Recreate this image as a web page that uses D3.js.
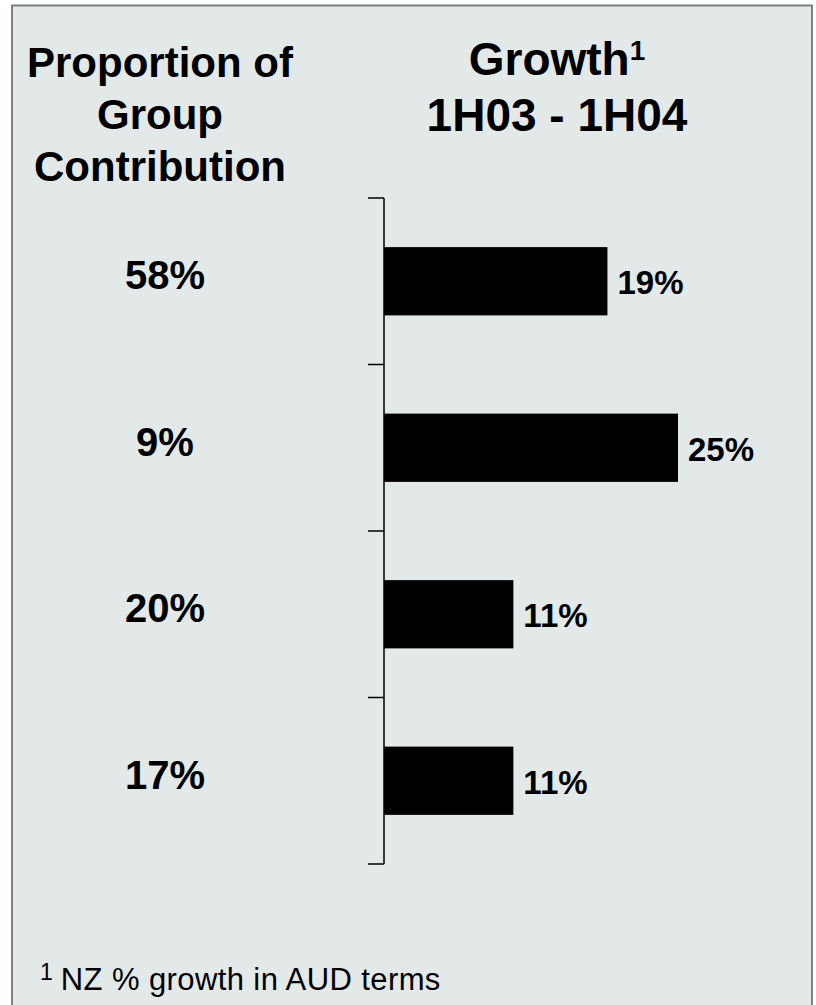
<!DOCTYPE html>
<html><head><meta charset="utf-8">
<script src="https://cdn.jsdelivr.net/npm/d3@7/dist/d3.min.js"></script>
<style>html,body{margin:0;padding:0;background:#fff;}svg{display:block;}text{font-family:Arial,"Liberation Sans",sans-serif;}</style>
</head><body>
<svg id="chart" width="816" height="1005"></svg>
<script>
const categories = ["A", "B", "C", "D"];
const contribution = ["58%", "9%", "20%", "17%"];
const growth = [19, 25, 11, 11];
const growthLabels = ["19%", "25%", "11%", "11%"];
const leftTitle = ["Proportion of", "Group", "Contribution"];
const rightTitle = ["Growth", "1H03 - 1H04"];
const footnote = "NZ % growth in AUD terms";

const svg = d3.select("#chart");
svg.append("rect").attr("x", 12).attr("y", 5.5).attr("width", 800).attr("height", 1010)
  .attr("fill", "#e3e9e9").attr("stroke", "#7f7f7f").attr("stroke-width", 2);

const y = d3.scaleBand().domain(categories).range([198, 864]).padding(0);
const x = d3.scaleLinear().domain([0, 30]).range([384, 384 + 11.76 * 30]);
const barH = y.bandwidth() * 0.41;

// left title
svg.append("g").selectAll("text").data(leftTitle).join("text")
  .attr("x", 160).attr("y", (d, i) => 77 + i * 52)
  .attr("text-anchor", "middle").attr("font-weight", "bold").attr("font-size", 42)
  .attr("fill", "#000").text(d => d);

// right title
const rt = svg.append("g");
const g1 = rt.append("text").attr("x", 557).attr("y", 75).attr("text-anchor", "middle")
  .attr("font-weight", "bold").attr("font-size", 46).attr("fill", "#000");
g1.append("tspan").text(rightTitle[0]);
g1.append("tspan").attr("font-size", 28).attr("dy", -15).text("1");
rt.append("text").attr("x", 557).attr("y", 131).attr("text-anchor", "middle")
  .attr("font-weight", "bold").attr("font-size", 46).attr("fill", "#000").text(rightTitle[1]);

// bars
svg.append("g").selectAll("rect").data(categories).join("rect")
  .attr("x", x(0)).attr("y", d => y(d) + y.bandwidth() / 2 - barH / 2)
  .attr("width", (d, i) => x(growth[i]) - x(0)).attr("height", barH)
  .attr("fill", "#000");

// axis
const ax = svg.append("g").attr("stroke", "#000").attr("stroke-width", 1.5);
ax.append("line").attr("x1", x(0)).attr("x2", x(0)).attr("y1", y.range()[0]).attr("y2", y.range()[1]);
const bounds = categories.map(c => y(c)).concat([y.range()[1]]);
ax.selectAll("line.t").data(bounds).join("line").attr("class", "t")
  .attr("x1", x(0) - 16).attr("x2", x(0)).attr("y1", d => d).attr("y2", d => d);

// value labels
svg.append("g").selectAll("text").data(categories).join("text")
  .attr("x", (d, i) => x(growth[i]) + 10).attr("y", d => y(d) + y.bandwidth() / 2 + 13)
  .attr("font-weight", "bold").attr("font-size", 33).attr("fill", "#000")
  .text((d, i) => growthLabels[i]);

// contribution labels
svg.append("g").selectAll("text").data(categories).join("text")
  .attr("x", 165).attr("y", d => y(d) + y.bandwidth() / 2 + 8)
  .attr("text-anchor", "middle").attr("font-weight", "bold").attr("font-size", 40).attr("fill", "#000")
  .text((d, i) => contribution[i]);

// footnote
const fn = svg.append("text").attr("x", 40).attr("y", 990).attr("font-size", 31).attr("fill", "#000");
fn.append("tspan").attr("font-size", 23).attr("dy", -10).text("1");
fn.append("tspan").attr("dy", 10).attr("dx", 8).attr("letter-spacing", 0.4).text(footnote);
</script>
</body></html>
